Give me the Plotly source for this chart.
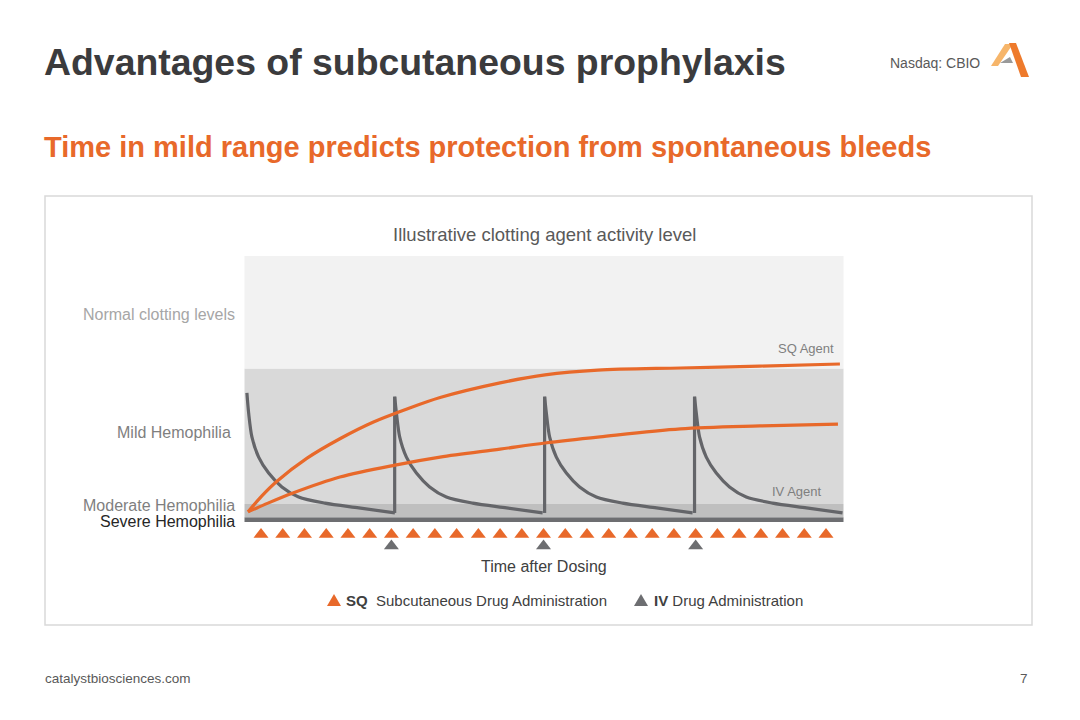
import plotly.graph_objects as go

# ---------------- data ----------------
sq_dose_day = [1, 2, 3, 4, 5, 6, 7, 8, 9, 10, 11, 12, 13, 14, 15, 16, 17, 18, 19, 20,
               21, 22, 23, 24, 25, 26, 27]
iv_marker_day = [7, 14, 21]
iv_dose_day = [0.35, 7.15, 14.05, 20.95]
iv_peak_level = [48.5, 47.1, 47.1, 47.1]
iv_trough_level = 3.4
iv_profile_dt = [0, 0.08, 0.23, 0.54, 1.0, 1.61, 2.38, 3.59, 5.15, 6.81]
iv_profile_level = [None, 41.0, 32.0, 24.4, 18.4, 13.2, 9.4, 7.1, 5.3, 3.4]

sq_high_day = [0.40, 1.04, 1.72, 3.12, 4.63, 6.15, 7.62, 9.24, 12.0, 14.07, 16.5, 20.3, 23.96, 27.64]
sq_high_level = [3.8, 9.8, 15.2, 24.0, 31.3, 37.5, 42.2, 46.8, 52.3, 55.3, 57.1, 57.9, 58.6, 59.4]
sq_low_day = [0.40, 1.32, 2.47, 4.63, 7.17, 9.24, 12.0, 14.07, 16.6, 20.3, 23.96, 27.55]
sq_low_level = [3.8, 7.1, 10.9, 16.9, 21.4, 24.4, 27.4, 29.7, 32.0, 35.0, 36.1, 36.8]

band_names = ["Severe Hemophilia", "Moderate Hemophilia", "Mild Hemophilia", "Normal clotting levels"]
band_edges = [0, 1.8, 6.8, 57.7, 100]
band_colors = ["#6d6e71", "#bfbfbf", "#d9d9d9", "#f2f2f2"]

ORANGE = "#e8692a"
GRAY = "#646569"
FONT = "Liberation Sans, Arial, sans-serif"


def px(x, y):
    return x / 1080, 1 - y / 720


fig = go.Figure()

# IV decay cycles (one spline trace per dose)
for i, d in enumerate(iv_dose_day):
    xs = [d + dt for dt in iv_profile_dt]
    ys = [iv_peak_level[i]] + iv_profile_level[1:]
    fig.add_trace(go.Scatter(x=xs, y=ys, mode="lines", line=dict(color=GRAY, width=3.2, shape="spline", smoothing=0.8),
                             hoverinfo="skip", showlegend=False))
# IV rises at each re-dose
rx, ry = [], []
for i, d in enumerate(iv_dose_day[1:], start=1):
    rx += [d, d, None]
    ry += [iv_trough_level, iv_peak_level[i], None]
fig.add_trace(go.Scatter(x=rx, y=ry, mode="lines", line=dict(color=GRAY, width=3.2), hoverinfo="skip", showlegend=False))

# SQ curves
fig.add_trace(go.Scatter(x=sq_high_day, y=sq_high_level, mode="lines",
                         line=dict(color=ORANGE, width=3.2, shape="spline", smoothing=0.9), showlegend=False))
fig.add_trace(go.Scatter(x=sq_low_day, y=sq_low_level, mode="lines",
                         line=dict(color=ORANGE, width=3.2, shape="spline", smoothing=0.9), showlegend=False))

# dosing markers
fig.add_trace(go.Scatter(x=sq_dose_day, y=[-4.7] * len(sq_dose_day), mode="markers",
                         marker=dict(symbol="triangle-up", size=13, color=ORANGE, line=dict(width=0)),
                         showlegend=False, cliponaxis=False))
fig.add_trace(go.Scatter(x=iv_marker_day, y=[-9.0] * len(iv_marker_day), mode="markers",
                         marker=dict(symbol="triangle-up", size=13, color="#6d6e71", line=dict(width=0)),
                         showlegend=False, cliponaxis=False))

shapes = []
# bands
for lo, hi, c in zip(band_edges[:-1], band_edges[1:], band_colors):
    shapes.append(dict(type="rect", xref="x domain", yref="y", x0=0, x1=1, y0=lo, y1=hi,
                       fillcolor=c, line=dict(width=0), layer="below"))

# frame box
x0, y0 = px(45, 625)
x1, y1 = px(1032, 196)
shapes.append(dict(type="rect", xref="paper", yref="paper", x0=x0, x1=x1, y0=y0, y1=y1,
                   line=dict(color="#d9d9d9", width=1.5), fillcolor="rgba(0,0,0,0)", layer="below"))


def path(points):
    s = ""
    for k, (x, y) in enumerate(points):
        X, Y = px(x, y)
        s += ("M" if k == 0 else "L") + f"{X:.5f},{Y:.5f} "
    return s + "Z"


# legend triangle icons
shapes.append(dict(type="path", xref="paper", yref="paper", path=path([(327, 606), (341, 606), (334, 594)]),
                   fillcolor=ORANGE, line=dict(width=0)))
shapes.append(dict(type="path", xref="paper", yref="paper", path=path([(634, 606), (648, 606), (641, 594)]),
                   fillcolor="#6d6e71", line=dict(width=0)))

# logo
shapes.append(dict(type="path", xref="paper", yref="paper",
                   path=path([(1005, 44), (1013, 44), (998, 66), (991, 66)]),
                   fillcolor="#f6b56a", line=dict(width=0)))
shapes.append(dict(type="path", xref="paper", yref="paper",
                   path=path([(1009, 43), (1016, 43), (1029, 77), (1021, 77)]),
                   fillcolor="#ee7a2c", line=dict(width=0)))
shapes.append(dict(type="path", xref="paper", yref="paper",
                   path=path([(1000, 63), (1010, 57), (1013, 63)]),
                   fillcolor="#9a9a9a", line=dict(width=0)))

annotations = []


def text(t, x, y, size, color, xanchor="left", bold=False):
    X, Y = px(x, y)
    annotations.append(dict(text=f"<b>{t}</b>" if bold else t, x=X, y=Y, xref="paper", yref="paper",
                            xanchor=xanchor, yanchor="middle", showarrow=False,
                            font=dict(family=FONT, size=size, color=color)))


text("Advantages of subcutaneous prophylaxis", 42, 62, 37.4, "#3b3b3d", bold=True)
text("Time in mild range predicts protection from spontaneous bleeds", 42, 147, 29, ORANGE, bold=True)
text("Nasdaq: CBIO", 982, 63, 14, "#595959", xanchor="right")
text("Illustrative clotting agent activity level", 544, 235, 18.5, "#595959", xanchor="center")
text(band_names[3], 237, 314, 16, "#a6a6a6", xanchor="right")
text(band_names[2], 233, 432, 16, "#7f7f7f", xanchor="right")
text(band_names[1], 237, 506, 16, "#7f7f7f", xanchor="right")
text(band_names[0], 237, 521, 16, "#262626", xanchor="right")
text("SQ Agent", 836, 348, 13, "#7f7f7f", xanchor="right")
text("IV Agent", 824, 491, 13, "#7f7f7f", xanchor="right")
text("Time after Dosing", 544, 566, 16, "#404040", xanchor="center")
text("<b>SQ</b>&nbsp; Subcutaneous Drug Administration", 344, 600, 15, "#404040")
text("<b>IV</b> Drug Administration", 652, 600, 15, "#404040")
text("catalystbiosciences.com", 43, 678, 13.5, "#595959")
text("7", 1030, 678, 13.5, "#595959", xanchor="right")

xd0, xd1 = 244.5 / 1080, 843.5 / 1080
fig.update_layout(
    width=1080, height=720,
    margin=dict(l=0, r=0, t=0, b=0),
    paper_bgcolor="white", plot_bgcolor="white",
    font=dict(family=FONT),
    xaxis=dict(domain=[xd0, xd1], range=[(244.5 - 239.3) / 21.73, (843.5 - 239.3) / 21.73],
               visible=False, showgrid=False, zeroline=False, fixedrange=True),
    yaxis=dict(domain=[1 - 560 / 720, 1 - 256 / 720], range=[-14.29, 100],
               visible=False, showgrid=False, zeroline=False, fixedrange=True),
    shapes=shapes,
    annotations=annotations,
    showlegend=False,
)

fig.write_html("out.html", config={"displayModeBar": False},
               post_script="document.body.style.margin='0';document.body.style.overflow='hidden';")
